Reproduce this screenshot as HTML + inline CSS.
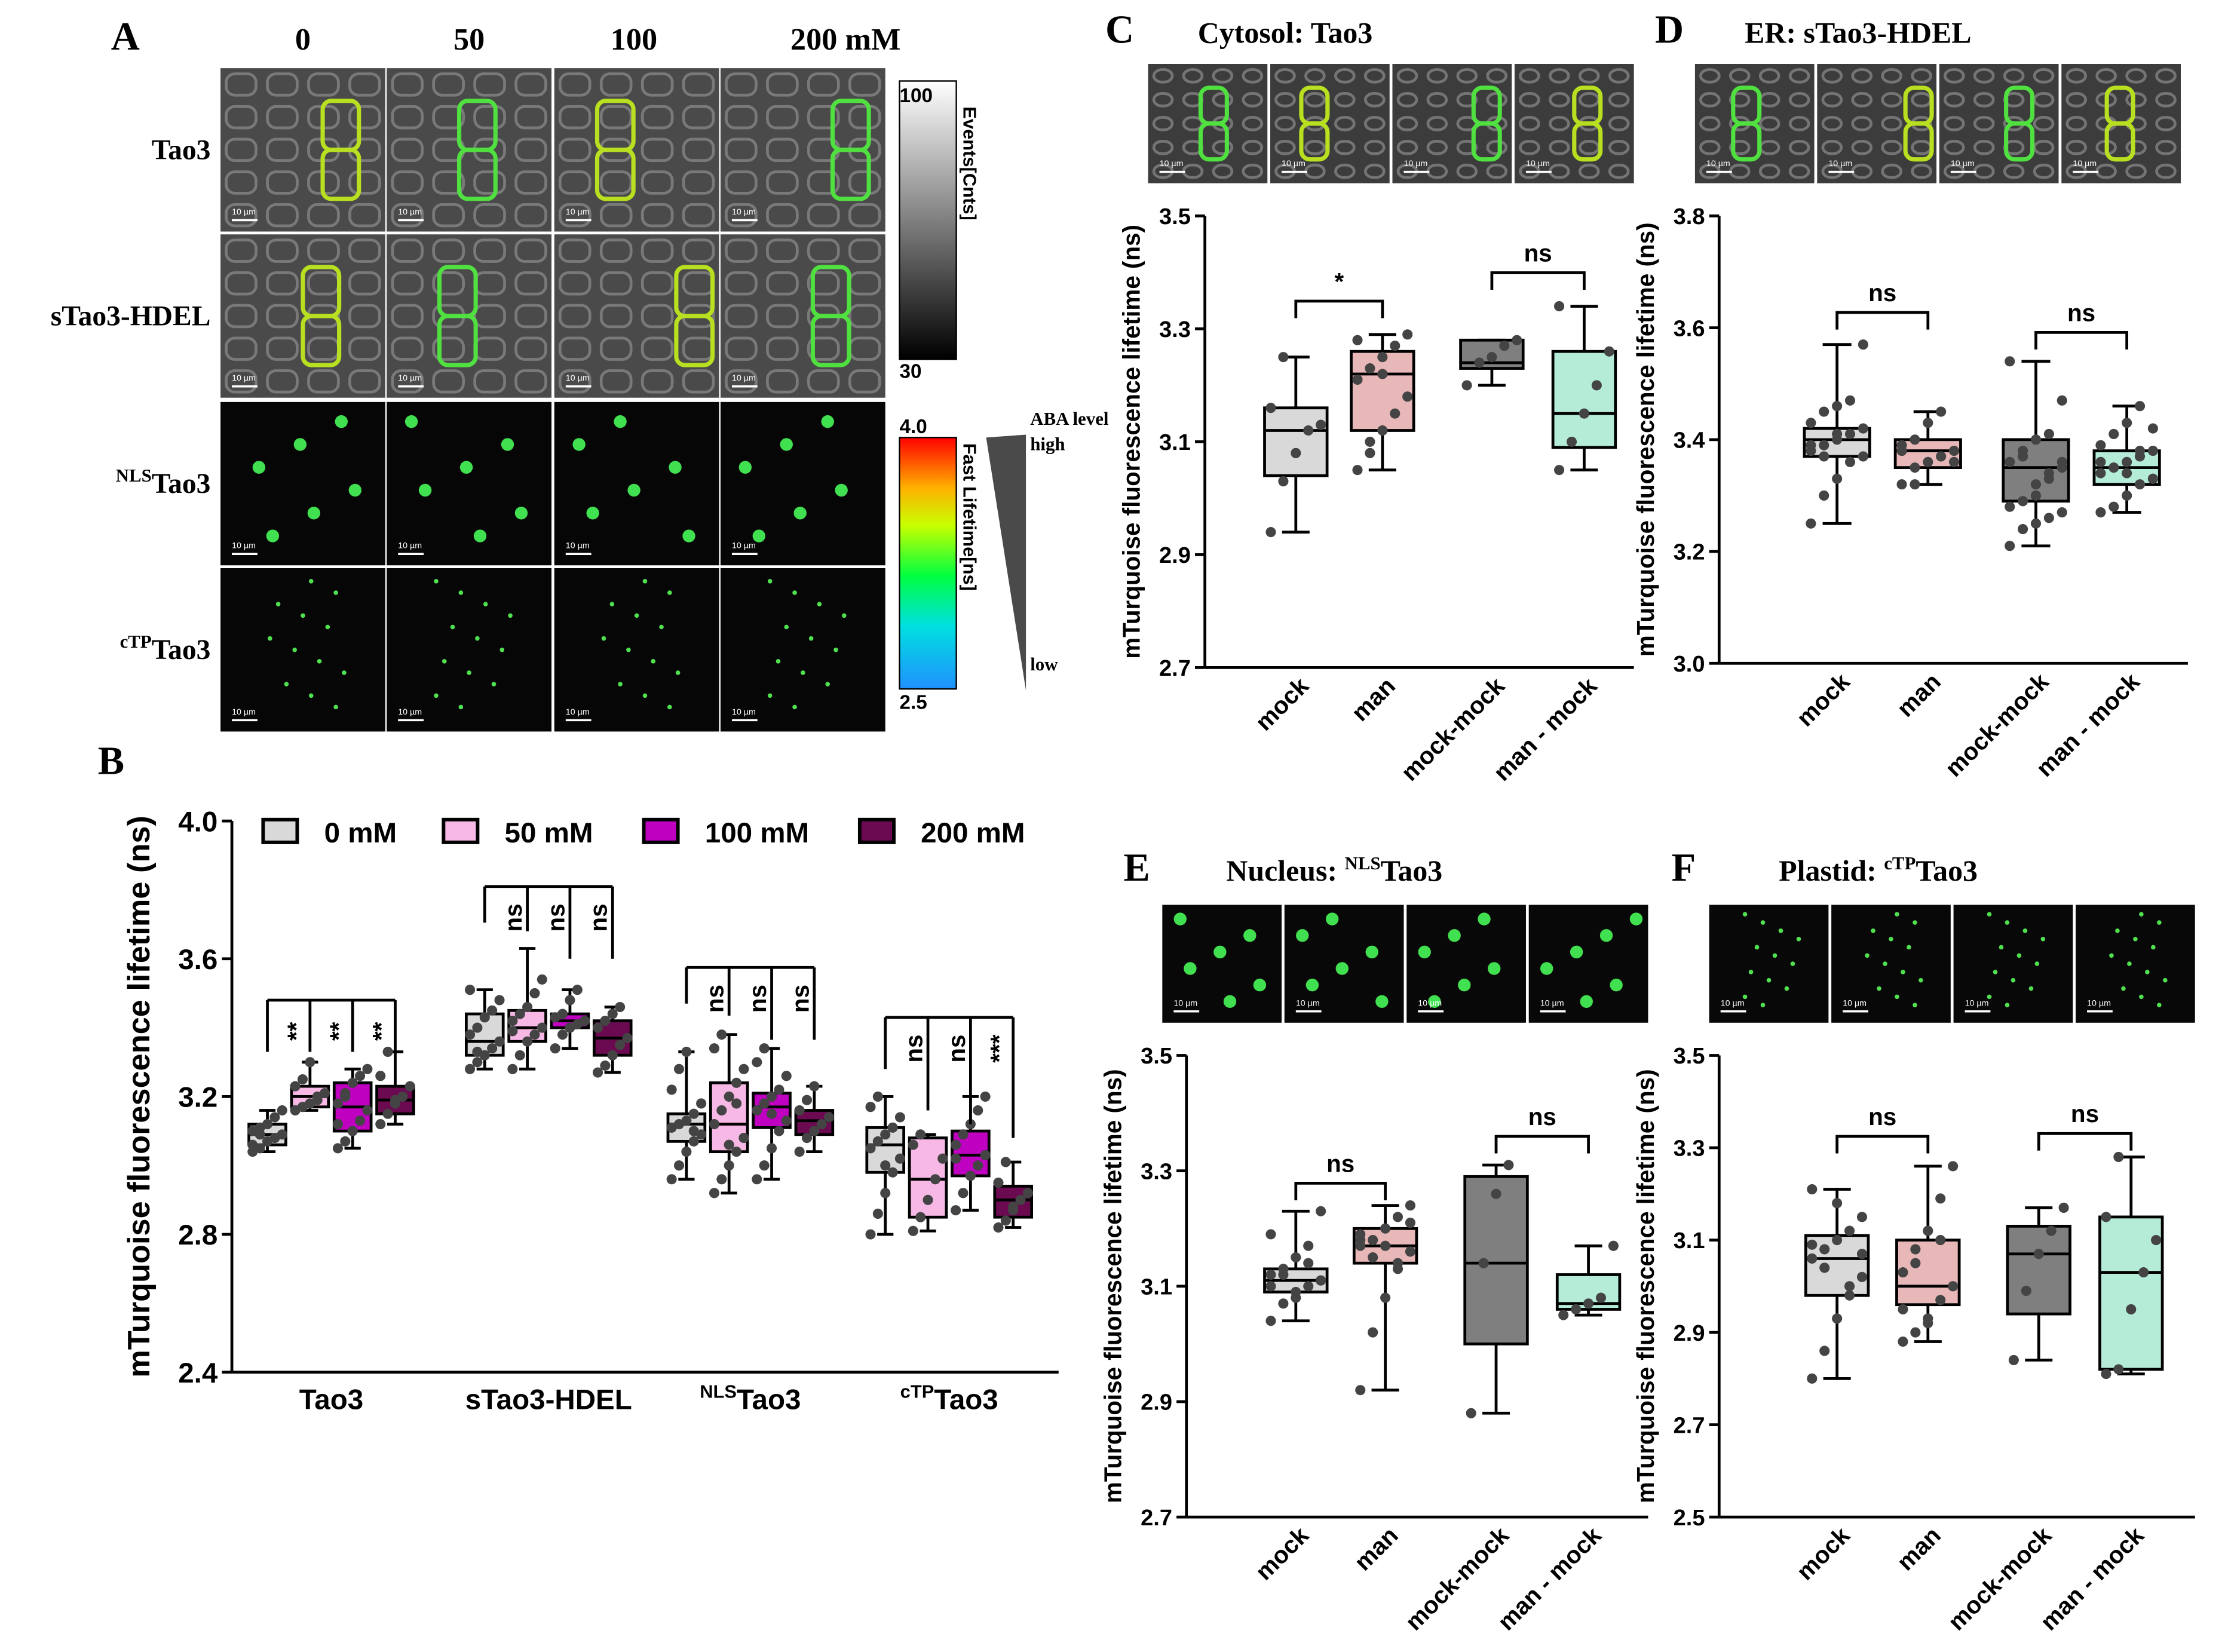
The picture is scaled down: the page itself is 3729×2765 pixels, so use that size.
<!DOCTYPE html>
<html><head><meta charset="utf-8"><style>
html,body{margin:0;padding:0;background:#fff}
svg{display:block}
text{font-family:"Liberation Sans",Arial,sans-serif}
.serif{font-family:"Liberation Serif","Times New Roman",serif}
</style></head><body>
<svg id="fig" width="3729" height="2765" viewBox="0 0 1568 1163" xmlns="http://www.w3.org/2000/svg">
<defs>
<linearGradient id="grayGrad" x1="0" y1="0" x2="0" y2="1"><stop offset="0" stop-color="#fff"/><stop offset="1" stop-color="#000"/></linearGradient>
<linearGradient id="rainbow" x1="0" y1="0" x2="0" y2="1"><stop offset="0" stop-color="#ff0000"/><stop offset="0.2" stop-color="#ffb000"/><stop offset="0.35" stop-color="#c8ff00"/><stop offset="0.55" stop-color="#00ff40"/><stop offset="0.75" stop-color="#00e0e0"/><stop offset="1" stop-color="#2090ff"/></linearGradient>
</defs>
<g id="root"></g>
</svg>
<script>
// ---------- Panel B data ----------
const bGroups=["Tao3","sTao3-HDEL","NLSTao3","cTPTao3"];
const bSeries=["0 mM","50 mM","100 mM","200 mM"];
const bMin=[[3.04,3.16,3.05,3.12],[3.28,3.28,3.34,3.27],[2.96,2.92,2.96,3.04],[2.80,2.81,2.87,2.82]];
const bQ1=[[3.06,3.17,3.10,3.15],[3.32,3.36,3.40,3.32],[3.07,3.04,3.11,3.09],[2.98,2.85,2.97,2.85]];
const bMed=[[3.09,3.20,3.17,3.19],[3.36,3.40,3.42,3.37],[3.12,3.12,3.17,3.13],[3.06,2.96,3.03,2.90]];
const bQ3=[[3.12,3.23,3.24,3.23],[3.44,3.45,3.44,3.42],[3.15,3.24,3.21,3.16],[3.11,3.08,3.10,2.94]];
const bMax=[[3.16,3.30,3.28,3.33],[3.51,3.63,3.51,3.46],[3.33,3.38,3.34,3.23],[3.20,3.09,3.20,3.01]];
const bPts=[
 [[3.04,3.05,3.07,3.08,3.09,3.10,3.11,3.12,3.14,3.16,3.06,3.09],[3.16,3.17,3.18,3.20,3.21,3.23,3.25,3.30,3.19],[3.05,3.07,3.10,3.13,3.16,3.18,3.21,3.24,3.26,3.28,3.12,3.20],[3.12,3.15,3.18,3.20,3.23,3.26,3.33,3.19]],
 [[3.28,3.30,3.32,3.34,3.36,3.38,3.40,3.43,3.45,3.48,3.51,3.33],[3.28,3.32,3.36,3.38,3.40,3.42,3.44,3.46,3.50,3.54,3.39],[3.34,3.38,3.40,3.41,3.42,3.43,3.44,3.48,3.51],[3.27,3.29,3.32,3.35,3.37,3.40,3.42,3.44,3.46]],
 [[2.96,3.00,3.04,3.07,3.09,3.11,3.12,3.13,3.15,3.18,3.22,3.28,3.33,3.10],[2.92,2.96,3.00,3.04,3.08,3.12,3.16,3.20,3.24,3.28,3.34,3.38,3.06,3.18],[2.96,3.00,3.05,3.10,3.13,3.16,3.18,3.20,3.22,3.26,3.30,3.34,3.15],[3.04,3.08,3.10,3.12,3.14,3.16,3.19,3.23]],
 [[2.80,2.86,2.92,2.98,3.02,3.05,3.07,3.09,3.11,3.14,3.17,3.20,3.00],[2.81,2.85,2.90,2.96,3.02,3.06,3.09],[2.87,2.92,2.97,3.00,3.03,3.06,3.09,3.12,3.16,3.20,3.02],[2.82,2.84,2.87,2.90,2.92,2.95,3.01,2.88]]];
const bSig=[["**","**","**"],["ns","ns","ns"],["ns","ns","ns"],["ns","ns","***"]];
const bBracketTop=[3.48,3.81,3.575,3.43];
const bBracketLen=[[0.15,0.15,0.15,0.15],[0.105,0.13,0.21,0.21],[0.105,0.14,0.21,0.21],[0.15,0.27,0.31,0.35]];
const bTicks=[4.0,3.6,3.2,2.8,2.4];
// ---------- Panels C-F data ----------
const cfCats=["mock","man","mock-mock","man - mock"];
const cMin=[2.94,3.05,3.20,3.05], cQ1=[3.04,3.12,3.23,3.09], cMed=[3.12,3.22,3.24,3.15], cQ3=[3.16,3.26,3.28,3.26], cMax=[3.25,3.29,3.28,3.34];
const cPts=[[2.94,3.03,3.08,3.12,3.13,3.16,3.25],[3.05,3.08,3.12,3.15,3.18,3.21,3.23,3.25,3.27,3.29,3.28,3.10,3.22],[3.20,3.24,3.25,3.27,3.28],[3.05,3.10,3.15,3.20,3.26,3.34]];
const cTicks=[3.5,3.3,3.1,2.9,2.7];
const dMin=[3.25,3.32,3.21,3.27], dQ1=[3.37,3.35,3.29,3.32], dMed=[3.40,3.38,3.35,3.35], dQ3=[3.42,3.40,3.40,3.38], dMax=[3.57,3.45,3.54,3.46];
const dPts=[[3.25,3.30,3.33,3.36,3.37,3.38,3.39,3.40,3.41,3.42,3.43,3.45,3.46,3.47,3.57,3.39,3.37,3.41],[3.32,3.35,3.36,3.37,3.38,3.39,3.40,3.43,3.45,3.36,3.38,3.32],[3.21,3.24,3.25,3.26,3.27,3.28,3.29,3.32,3.33,3.35,3.36,3.37,3.40,3.41,3.47,3.54,3.38,3.30,3.34,3.36],[3.27,3.28,3.30,3.32,3.33,3.34,3.35,3.36,3.37,3.38,3.39,3.41,3.43,3.46,3.33,3.36,3.35,3.34,3.38,3.42]];
const dTicks=[3.8,3.6,3.4,3.2,3.0];
const eMin=[3.04,2.92,2.88,3.05], eQ1=[3.09,3.14,3.00,3.06], eMed=[3.11,3.17,3.14,3.07], eQ3=[3.13,3.20,3.29,3.12], eMax=[3.23,3.24,3.31,3.17];
const ePts=[[3.04,3.07,3.09,3.10,3.11,3.12,3.13,3.15,3.17,3.23,3.10,3.12,3.08,3.14,3.11,3.19],[2.92,3.02,3.08,3.14,3.16,3.17,3.18,3.20,3.22,3.24,3.19,3.15,3.17,3.13,3.21,3.18],[2.88,3.14,3.26,3.31],[3.05,3.06,3.07,3.08,3.17]];
const eTicks=[3.5,3.3,3.1,2.9,2.7];
const fMin=[2.80,2.88,2.84,2.81], fQ1=[2.98,2.96,2.94,2.82], fMed=[3.06,3.00,3.07,3.03], fQ3=[3.11,3.10,3.13,3.15], fMax=[3.21,3.26,3.17,3.28];
const fPts=[[2.80,2.86,2.93,2.98,3.02,3.06,3.08,3.10,3.12,3.15,3.21,3.04,3.18,3.00,3.07,3.09],[2.88,2.90,2.93,2.97,3.00,3.03,3.08,3.12,3.19,3.26,2.95,3.05,2.92,3.10],[2.84,2.99,3.07,3.12,3.17],[2.81,2.82,2.95,3.03,3.10,3.15,3.28]];
const fTicks=[3.5,3.3,3.1,2.9,2.7,2.5];

const NS="http://www.w3.org/2000/svg";
const root=document.getElementById('root');
function mk(tag,attrs,parent,txt){const e=document.createElementNS(NS,tag);for(const k in attrs)e.setAttribute(k,attrs[k]);if(txt!==undefined)e.textContent=txt;(parent||root).appendChild(e);return e;}
function linScale(d0,d1,r0,r1){return v=>r0+(v-d0)*(r1-r0)/(d1-d0);}

// ---------- Panel letters & titles ----------
[["A",88,35],["B",78,545],["C",788,30],["D",1175,30],["E",800,620],["F",1185,620]].forEach(p=>{
 const t=mk('text',{x:p[1],y:p[2],'font-size':28,'font-weight':'bold','class':'serif','text-anchor':'middle'},root,p[0]);
 
 
});
function title(x,y,parts,name){const t=mk('text',{x:x,y:y,'font-size':21,'font-weight':'bold','class':'serif'});
 
 
 parts.forEach(p=>{mk('tspan',p[1]?{'font-size':13,dy:-8}:{'dy':p[2]||0},t,p[0]);});}
title(843,30,[["Cytosol: Tao3"]],'panel-c-title');
title(1228,30,[["ER: sTao3-HDEL"]],'panel-d-title');
title(863,620,[["Nucleus: "],["NLS",1],["Tao3",0,8]],'panel-e-title');
title(1252,620,[["Plastid: "],["cTP",1],["Tao3",0,8]],'panel-f-title');

// ---------- Microscopy image helper ----------
function microImg(x,y,w,h,bg,kind,name,seed){
 const g=mk('g',{});
 
 
 mk('rect',{x:x,y:y,width:w,height:h,fill:bg},g);
 if(kind==='cells'){
  for(let i=0;i<5;i++)for(let j=0;j<4;j++){mk('rect',{x:x+4+j*w/4,y:y+4+i*h/5,width:w/4-8,height:h/5-8,rx:6,fill:'none',stroke:'#9a9a9a','stroke-width':2,opacity:0.6},g);}
  const gx=x+w*(0.2+0.6*((seed*37)%10)/10), gy=y+h*0.2;
  mk('rect',{x:gx,y:gy,width:w*0.22,height:h*0.3,rx:6,fill:'none',stroke:seed%2?'#b8e020':'#50e040','stroke-width':3},g);
  mk('rect',{x:gx,y:gy+h*0.3,width:w*0.22,height:h*0.3,rx:6,fill:'none',stroke:seed%2?'#b8e020':'#50e040','stroke-width':3},g);
 } else if(kind==='nuclei'){
  for(let i=0;i<6;i++){const cx=x+w*(0.15+((seed*3+i*7)%10)/12), cy=y+h*(0.12+i*0.14);mk('circle',{cx:cx,cy:cy,r:4.5,fill:'#40e050'},g);}
 } else if(kind==='plastid'){
  for(let i=0;i<12;i++){const cx=x+w*(0.3+((seed*5+i*3)%10)/20), cy=y+h*(0.08+i*0.07);mk('circle',{cx:cx,cy:cy,r:1.6,fill:'#50e050'},g);}
 }
 mk('line',{x1:x+8,y1:y+h-8,x2:x+26,y2:y+h-8,stroke:'#fff','stroke-width':1.5},g);
 mk('text',{x:x+8,y:y+h-12,'font-size':6,fill:'#fff'},g,'10 µm');
}
// Panel A grid
const aCols=[155,272,390,507], aRows=[48,165,283,400], aW=116, aH=115;
const aHdr=["0","50","100","200 mM"], aHx=[213,330,446,595];
aHdr.forEach((h,i)=>{const t=mk('text',{x:aHx[i],y:35,'font-size':22,'font-weight':'bold','class':'serif','text-anchor':'middle'},root,h);
 
 });
const rowLab=[[["Tao3"]],[["sTao3-HDEL"]],[["NLS",1],["Tao3",0]],[["cTP",1],["Tao3",0]]];
rowLab.forEach((r,i)=>{const t=mk('text',{x:148,y:aRows[i]+64,'font-size':20,'font-weight':'bold','class':'serif','text-anchor':'end'});
 
 
 r.forEach(p=>mk('tspan',p[1]?{'font-size':13,dy:-8}:{dy:8*(r.length>1?1:0)},t,p[0]));});
aRows.forEach((ry,i)=>aCols.forEach((cx,j)=>microImg(cx,ry,aW,aH,i<2?'#4a4a4a':'#060606',i<2?'cells':(i==2?'nuclei':'plastid'),'micrograph-a',i*4+j+1)));
// colorbars
let cb=mk('rect',{x:633,y:57,width:40,height:196,fill:'url(#grayGrad)',stroke:'#000','stroke-width':1});

mk('text',{x:633,y:72,'font-size':14,'font-weight':'bold'},root,'100');
mk('text',{x:633,y:266,'font-size':14,'font-weight':'bold'},root,'30');
mk('text',{x:0,y:0,'font-size':13,'font-weight':'bold',transform:'translate(678,75) rotate(90)'},root,'Events[Cnts]');
cb=mk('rect',{x:633,y:308,width:40,height:177,fill:'url(#rainbow)',stroke:'#000','stroke-width':1});

mk('text',{x:633,y:305,'font-size':14,'font-weight':'bold'},root,'4.0');
mk('text',{x:633,y:499,'font-size':14,'font-weight':'bold'},root,'2.5');
mk('text',{x:0,y:0,'font-size':13,'font-weight':'bold',transform:'translate(678,312) rotate(90)'},root,'Fast Lifetime[ns]');
let tri=mk('polygon',{points:'694,308 722,306 722,486',fill:'#4a4a4a'});

mk('text',{x:725,y:299,'font-size':13,'font-weight':'bold','class':'serif'},root,'ABA level');
mk('text',{x:725,y:317,'font-size':13,'font-weight':'bold','class':'serif'},root,'high');
mk('text',{x:725,y:472,'font-size':13,'font-weight':'bold','class':'serif'},root,'low');
// strips
[[808,45,'cells'],[1193,45,'cells'],[818,637,'nuclei'],[1203,637,'plastid']].forEach((s,k)=>{
 for(let i=0;i<4;i++)microImg(s[0]+i*86,s[1],84,k<2?84:83,s[2]==='cells'?'#3c3c3c':'#080808',s[2],'strip-micrograph',k*4+i+2);});

// ---------- Axis helper ----------
function yAxis(x,yTop,yBot,ticks,fs,name){
 const g=mk('g',{});
 mk('line',{x1:x,y1:yTop,x2:x,y2:yBot,stroke:'#000','stroke-width':2},g);
 const sc=linScale(ticks[ticks.length-1],ticks[0],yBot,yTop);
 ticks.forEach(t=>{const y=sc(t);mk('line',{x1:x-7,y1:y,x2:x,y2:y,stroke:'#000','stroke-width':2},g);
  mk('text',{x:x-10,y:y+fs*0.36,'font-size':fs,'font-weight':'bold','text-anchor':'end'},g,t.toFixed(1));});
 return sc;
}
function drawBox(cx,w,mn,q1,md,q3,mx,fill,sc,name,pts,spread){
 const g=mk('g',{});
 mk('line',{x1:cx,y1:sc(mx),x2:cx,y2:sc(mn),stroke:'#000','stroke-width':2},g);
 mk('line',{x1:cx-w*0.22,y1:sc(mx),x2:cx+w*0.22,y2:sc(mx),stroke:'#000','stroke-width':2},g);
 mk('line',{x1:cx-w*0.22,y1:sc(mn),x2:cx+w*0.22,y2:sc(mn),stroke:'#000','stroke-width':2},g);
 mk('rect',{x:cx-w/2,y:sc(q3),width:w,height:sc(q1)-sc(q3),fill:fill,stroke:'#000','stroke-width':2},g);
 mk('line',{x1:cx-w/2,y1:sc(md),x2:cx+w/2,y2:sc(md),stroke:'#000','stroke-width':2},g);
 if(pts)pts.forEach((p,i)=>{const c=mk('circle',{cx:cx+((i%5)-2)*w*(spread||0.22),cy:sc(p),r:3.6,fill:'#444'},g);
  });
}
function yTitle(x,yc,fs){const t=mk('text',{x:0,y:0,'font-size':fs,'font-weight':'bold','text-anchor':'middle',transform:`translate(${x},${yc}) rotate(-90)`},root,'mTurquoise fluorescence lifetime (ns)');
 }

// ---------- Panel B ----------
const bSc=yAxis(163,578,966,bTicks,20,'panel-b-y-axis');
let xa=mk('line',{x1:163,y1:966,x2:745,y2:966,stroke:'#000','stroke-width':2});

yTitle(105,772,22);
const bCols=['#d9d9d9','#f7b8e6','#c000c0','#6b0a50'];
const bCenters=[233,386,528,668], bOff=[-45,-15,15,45];
bGroups.forEach((gname,gi)=>{
 const lx=bCenters[gi];
 const t=mk('text',{x:lx,y:992,'font-size':20,'font-weight':'bold','text-anchor':'middle'});
 
 if(gname.startsWith('NLS')){mk('tspan',{'font-size':13,dy:-8},t,'NLS');mk('tspan',{dy:8},t,'Tao3');}
 else if(gname.startsWith('cTP')){mk('tspan',{'font-size':13,dy:-8},t,'cTP');mk('tspan',{dy:8},t,'Tao3');}
 else t.textContent=gname;
 bSeries.forEach((s,si)=>drawBox(lx+bOff[si],26,bMin[gi][si],bQ1[gi][si],bMed[gi][si],bQ3[gi][si],bMax[gi][si],bCols[si],bSc,'box-'+gi+'-'+si,bPts[gi][si],0.2));
 // comb bracket
 const top=bBracketTop[gi];
 const yT=bSc(top);
 const g=mk('g',{});
 mk('line',{x1:lx+bOff[0],y1:yT,x2:lx+bOff[3],y2:yT,stroke:'#000','stroke-width':2},g);
 bOff.forEach((o,k)=>{const yEnd=bSc(top-bBracketLen[gi][k]);mk('line',{x1:lx+o,y1:yT,x2:lx+o,y2:yEnd,stroke:'#000','stroke-width':2},g);
  if(k>0)mk('text',{x:0,y:0,'font-size':17,'font-weight':'bold','text-anchor':'middle',transform:`translate(${lx+o-4},${yT+22}) rotate(-90)`},g,bSig[gi][k-1]);});
});
// legend
bSeries.forEach((s,i)=>{const lx=[185,312,453,605][i];
 const g=mk('g',{});
 mk('rect',{x:lx,y:577,width:24,height:16,fill:bCols[i],stroke:'#000','stroke-width':2.5},g);
 mk('text',{x:lx+43,y:593,'font-size':20,'font-weight':'bold'},g,s);});

// ---------- Panels C-F ----------
function smallPanel(cfg){
 const sc=yAxis(cfg.x,cfg.yTop,cfg.yBot,cfg.ticks,16,cfg.name+'-y-axis');
 const l=mk('line',{x1:cfg.x,y1:cfg.yBot,x2:cfg.xEnd,y2:cfg.yBot,stroke:'#000','stroke-width':2});
 
 yTitle(cfg.x-46,(cfg.yTop+cfg.yBot)/2,17);
 const cols=['#d9d9d9','#e8b8b8','#7f7f7f','#b5ecd8'];
 cfCats.forEach((c,i)=>{const cx=cfg.cx[i];
  drawBox(cx,cfg.w,cfg.mn[i],cfg.q1[i],cfg.md[i],cfg.q3[i],cfg.mx[i],cols[i],sc,cfg.name+'-box-'+c,cfg.pts[i],0.2);
  const t=mk('text',{x:0,y:0,'font-size':17,'font-weight':'bold','text-anchor':'end',transform:`translate(${cx+10},${cfg.yBot+14}) rotate(-45)`},root,c);
  });
 cfg.sig.forEach((s,k)=>{const a=cfg.cx[k*2],b=cfg.cx[k*2+1],y=s[0];
  const g=mk('g',{});
  mk('path',{d:`M${a},${y+12}V${y}H${b}V${y+12}`,fill:'none',stroke:'#000','stroke-width':2},g);
  mk('text',{x:(a+b)/2,y:y-8,'font-size':17,'font-weight':'bold','text-anchor':'middle'},g,s[1]);});
}
smallPanel({name:'panel-c',x:848,yTop:152,yBot:470,xEnd:1150,ticks:cTicks,cx:[912,973,1050,1115],w:44,mn:cMin,q1:cQ1,md:cMed,q3:cQ3,mx:cMax,pts:cPts,sig:[[212,'*'],[192,'ns']]});
smallPanel({name:'panel-d',x:1210,yTop:152,yBot:467,xEnd:1540,ticks:dTicks,cx:[1293,1357,1433,1497],w:46,mn:dMin,q1:dQ1,md:dMed,q3:dQ3,mx:dMax,pts:dPts,sig:[[220,'ns'],[234,'ns']]});
smallPanel({name:'panel-e',x:835,yTop:743,yBot:1068,xEnd:1160,ticks:eTicks,cx:[912,975,1053,1118],w:44,mn:eMin,q1:eQ1,md:eMed,q3:eQ3,mx:eMax,pts:ePts,sig:[[833,'ns'],[800,'ns']]});
smallPanel({name:'panel-f',x:1210,yTop:743,yBot:1068,xEnd:1545,ticks:fTicks,cx:[1293,1357,1435,1500],w:44,mn:fMin,q1:fQ1,md:fMed,q3:fQ3,mx:fMax,pts:fPts,sig:[[800,'ns'],[798,'ns']]});
</script>
</body></html>
